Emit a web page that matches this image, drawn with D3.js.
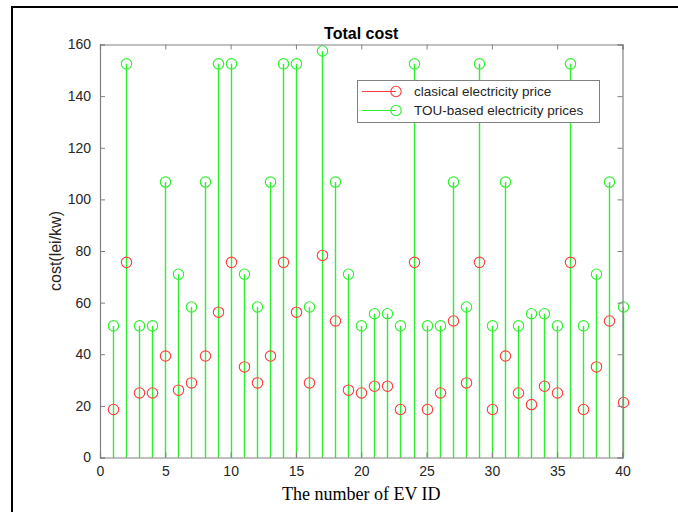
<!DOCTYPE html>
<html><head><meta charset="utf-8">
<script src="https://cdn.jsdelivr.net/npm/d3@7"></script>
<style>body{margin:0;background:#fff}svg{display:block}</style>
</head><body>
<script>
const ids = d3.range(1, 41);
const classical = [18.6,75.6,25.0,25.0,39.3,26.1,28.9,39.3,56.3,75.6,
  35.1,28.9,39.3,75.6,56.3,28.9,78.3,52.9,26.1,25.0,
  27.6,27.6,18.6,75.6,18.6,25.0,52.9,28.9,75.6,18.6,
  39.3,25.0,20.5,27.6,25.0,75.6,18.6,35.1,52.9,21.3];
const tou = [51,152.5,51,51,106.7,71,58.3,106.7,152.5,152.5,
  71,58.3,106.7,152.5,152.5,58.3,157.5,106.7,71,51,
  55.7,55.7,51,152.5,51,51,106.7,58.3,152.5,51,
  106.7,51,55.7,55.7,51,152.5,51,71,106.7,58.3];
const xTicks = [0,5,10,15,20,25,30,35,40];
const yTicks = [0,20,40,60,80,100,120,140,160];
const seriesNames = ["clasical electricity price", "TOU-based electricity prices"];
const colors = ["#ff3b3b", "#2cf02c"];
const stemWidths = [0.9, 1.4];

const W = 678, H = 512;
const svg = d3.select("body").append("svg").attr("width", W).attr("height", H);

// outer frame
svg.append("line").attr("x1",12).attr("y1",7).attr("x2",W).attr("y2",7).attr("stroke","#000").attr("stroke-width",2);
svg.append("line").attr("x1",12).attr("y1",6).attr("x2",12).attr("y2",H).attr("stroke","#000").attr("stroke-width",2);

const L = 100, R = 622.5, T = 44.5, B = 457.5;
const x = d3.scaleLinear().domain([0,40]).range([L,R]);
const y = d3.scaleLinear().domain([0,160]).range([B,T]);
const px = v => Math.round(x(v)) + 0.5;

const axisColor = "#808080";
const font = "'Liberation Sans', Arial, sans-serif";

// stems (red first, green on top), then markers
const stemG = svg.append("g"), markG = svg.append("g");
[classical, tou].forEach((vals, si) => {
  stemG.append("g").selectAll("line").data(ids).join("line")
    .attr("x1", d => px(d)).attr("x2", d => px(d))
    .attr("y1", y(0)).attr("y2", (d,i) => y(vals[i]))
    .attr("stroke", colors[si]).attr("stroke-width", stemWidths[si]);
  markG.append("g").selectAll("circle").data(ids).join("circle")
    .attr("cx", d => px(d)).attr("cy", (d,i) => y(vals[i])).attr("r", 5.2)
    .attr("fill", "none").attr("stroke", colors[si]).attr("stroke-width", 1.1);
});

// axes
const axB = svg.append("g").attr("transform",`translate(0,${B})`)
  .call(d3.axisBottom(x).tickValues(xTicks).tickSize(-5).tickPadding(9));
const axL = svg.append("g").attr("transform",`translate(${L},0)`)
  .call(d3.axisLeft(y).tickValues(yTicks).tickSize(-5).tickPadding(9));
const axT = svg.append("g").attr("transform",`translate(0,${T})`)
  .call(d3.axisTop(x).tickValues(xTicks).tickSize(-5).tickFormat(""));
const axR = svg.append("g").attr("transform",`translate(${R},0)`)
  .call(d3.axisRight(y).tickValues(yTicks).tickSize(-5).tickFormat(""));
[axB, axL, axT, axR].forEach(a => {
  a.select(".domain").attr("stroke", axisColor).attr("stroke-width", 1.2);
  a.selectAll(".tick line").attr("stroke", axisColor);
  a.selectAll(".tick text").attr("fill", "#262626").attr("font-size", 14).attr("font-family", font);
});

// title
svg.append("text").attr("x", (L+R)/2).attr("y", 39).attr("text-anchor","middle")
  .attr("font-family", font).attr("font-weight","bold").attr("font-size", 16).attr("fill","#000")
  .text("Total cost");
// x label
svg.append("text").attr("x", (L+R)/2).attr("y", 500).attr("text-anchor","middle")
  .attr("font-family", "'Liberation Serif', 'Times New Roman', serif").attr("font-size", 18).attr("fill","#000")
  .text("The number of EV ID");
// y label
svg.append("text").attr("transform", `translate(61,${(T+B)/2}) rotate(-90)`).attr("text-anchor","middle")
  .attr("font-family", font).attr("font-size", 16).attr("fill","#262626")
  .text("cost(lei/kw)");

// legend
const lg = svg.append("g");
lg.append("rect").attr("x", 357.5).attr("y", 80.5).attr("width", 242).attr("height", 42)
  .attr("fill","#fff").attr("stroke", "#808080").attr("stroke-width", 1);
seriesNames.forEach((n, i) => {
  const yy = 91.5 + i*19;
  lg.append("line").attr("x1", 362).attr("x2", 396).attr("y1", yy).attr("y2", yy).attr("stroke", colors[i]).attr("stroke-width", 1.2);
  lg.append("circle").attr("cx", 396).attr("cy", yy).attr("r", 5.2).attr("fill","none").attr("stroke", colors[i]).attr("stroke-width", 1.1);
  lg.append("text").attr("x", 414).attr("y", yy + 4.5).attr("font-family", font).attr("font-size", 13.5)
    .attr("fill","#262626").text(n);
});
</script>
</body></html>
